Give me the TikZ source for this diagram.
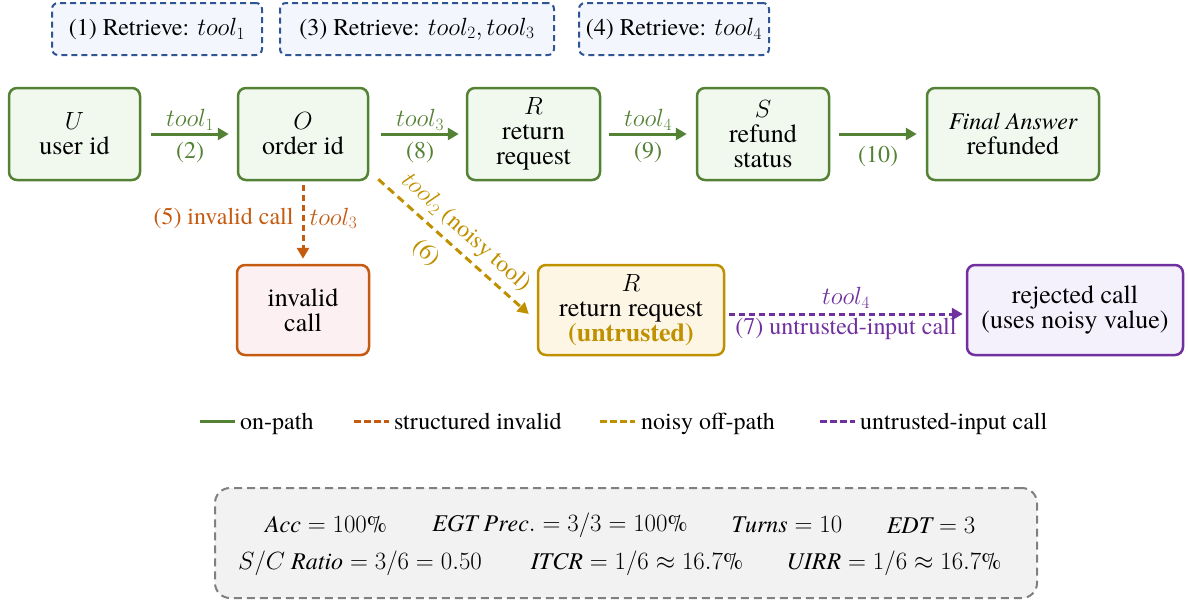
\documentclass[tikz,border=0pt]{standalone}
\usepackage{fontspec}
\setmainfont{TeX Gyre Termes}
\usetikzlibrary{arrows.meta}
\definecolor{cgreen}{HTML}{548235}
\definecolor{gfill}{HTML}{F1F9EF}
\definecolor{corange}{HTML}{C55A11}
\definecolor{ofill}{HTML}{FDF0F2}
\definecolor{cgold}{HTML}{BF9000}
\definecolor{yfill}{HTML}{FEF6E4}
\definecolor{cpurple}{HTML}{7030A0}
\definecolor{pfill}{HTML}{F4F0FC}
\definecolor{cblue}{HTML}{2F5597}
\definecolor{bfill}{HTML}{F3F7FD}
\definecolor{cgray}{HTML}{808080}
\definecolor{grfill}{HTML}{F2F2F2}
\begin{document}
\begin{tikzpicture}[x=1pt,y=-1pt,
  box/.style={draw, rounded corners=8pt, line width=2.5pt, align=center, inner sep=0pt,
    minimum height=92pt, font=\fontsize{26}{25}\selectfont},
  gbox/.style={box, draw=cgreen, fill=gfill},
  obox/.style={box, draw=corange, fill=ofill, minimum height=90pt},
  ybox/.style={box, draw=cgold, fill=yfill, minimum height=90pt},
  pbox/.style={box, draw=cpurple, fill=pfill, minimum height=90pt},
  tbox/.style={draw=cblue, fill=bfill, rounded corners=6pt, line width=2pt,
    dash pattern=on 6pt off 4pt, minimum height=52pt, inner sep=0pt,
    font=\fontsize{24}{24}\selectfont},
  arr/.style={line width=3pt, -{Triangle[length=11pt,width=12pt]}},
  garr/.style={arr, draw=cgreen},
  oarr/.style={arr, draw=corange, dash pattern=on 6pt off 4pt},
  yarr/.style={arr, draw=cgold, dash pattern=on 8pt off 5pt},
  parr/.style={arr, draw=cpurple, dash pattern=on 6pt off 4pt},
  lab/.style={font=\fontsize{24}{24}\selectfont, inner sep=2pt},
  legline/.style={line width=3pt},
]
\useasboundingbox (0,0) rectangle (1188,605);

% top retrieval boxes
\node[tbox, minimum width=210pt] (t1) at (157,29) {(1) Retrieve: $tool_1$};
\node[tbox, minimum width=274pt] (t2) at (417,29) {(3) Retrieve: $tool_2, tool_3$};
\node[tbox, minimum width=190pt] (t3) at (674,29) {(4) Retrieve: $tool_4$};

% main path
\node[gbox, minimum width=131pt] (U) at (74.5,134) {$U$\\user id};
\node[gbox, minimum width=130pt] (O) at (303,134) {$O$\\order id};
\node[gbox, minimum width=133pt] (R) at (533.5,134) {$R$\\return\\request};
\node[gbox, minimum width=132pt] (S) at (763,134) {$S$\\refund\\status};
\node[gbox, minimum width=172pt] (F) at (1013,134) {{\fontsize{24}{25}\selectfont\itshape Final Answer}\\refunded};

\draw[garr] ([xshift=10pt]U.east) -- node[lab, above, text=cgreen] {$tool_1$} node[lab, below=5pt, text=cgreen] {(2)} ([xshift=-8pt]O.west);
\draw[garr] ([xshift=12pt]O.east) -- node[lab, above, text=cgreen] {$tool_3$} node[lab, below=5pt, text=cgreen] {(8)} ([xshift=-7pt]R.west);
\draw[garr] ([xshift=8pt]R.east) -- node[lab, above, text=cgreen] {$tool_4$} node[lab, below=5pt, text=cgreen] {(9)} ([xshift=-9pt]S.west);
\draw[garr] ([xshift=9pt]S.east) -- node[lab, below=9pt, text=cgreen] {(10)} ([xshift=-9pt]F.west);

% lower boxes
\node[obox, minimum width=132pt] (I) at (303,310) {invalid\\call};
\node[ybox, minimum width=186pt] (T) at (631,310) {$R$\\return request\\{\color{cgold}\textbf{(untrusted)}}};
\node[pbox, minimum width=216pt] (J) at (1075,310) {rejected call\\(uses noisy value)};

\draw[oarr] ([yshift=-4pt]O.south) -- node[lab, left=6pt, text=corange, pos=0.45] {(5) invalid call}
  node[lab, right=3pt, text=corange, pos=0.45] {$tool_3$} ([yshift=5pt]I.north);
\draw[yarr] ([xshift=9pt,yshift=2pt]O.south east) -- node[lab, above=4pt, sloped, text=cgold, pos=0.5] {$tool_2$ (noisy tool)}
  node[lab, below=9pt, sloped, text=cgold, pos=0.42] {(6)} ([xshift=-8pt,yshift=-4pt]T.west);
\draw[parr] ([xshift=4pt,yshift=-4pt]T.east) -- node[lab, above=2pt, text=cpurple] {$tool_4$}
  node[lab, below=1pt, text=cpurple] {(7) untrusted-input call} ([xshift=-3pt,yshift=-4pt]J.west);

% legend
\draw[legline, cgreen] (200,421) -- (235,421);
\node[lab, anchor=base west] at (238,429) {on-path};
\draw[legline, corange, dash pattern=on 7pt off 3pt] (354,421) -- (389,421);
\node[lab, anchor=base west] at (392,429) {structured invalid};
\draw[legline, cgold, dash pattern=on 7pt off 3pt] (600,421) -- (635,421);
\node[lab, anchor=base west] at (639,429) {noisy off-path};
\draw[legline, cpurple, dash pattern=on 7pt off 3pt] (820,421) -- (855,421);
\node[lab, anchor=base west] at (858,429) {untrusted-input call};

% metrics box
\node[draw=cgray, fill=grfill, line width=2pt, dash pattern=on 8pt off 5pt, rounded corners=15pt,
  minimum width=822pt, minimum height=110pt] (M) at (626,543) {};
\node[lab] (m1) at (326,525) {$\mathit{Acc} = 100\%$};
\node[lab] (m2) at (560,525) {$\mathit{EGT\ Prec.} = 3/3 = 100\%$};
\node[lab] (m3) at (787,525) {$\mathit{Turns} = 10$};
\node[lab] (m4) at (931,525) {$\mathit{EDT} = 3$};
\node[lab] (m5) at (360,563) {$S/C\ \mathit{Ratio} = 3/6 = 0.50$};
\node[lab] (m6) at (637,563) {$\mathit{ITCR} = 1/6 \approx 16.7\%$};
\node[lab] (m7) at (894,563) {$\mathit{UIRR} = 1/6 \approx 16.7\%$};
\end{tikzpicture}
\end{document}
